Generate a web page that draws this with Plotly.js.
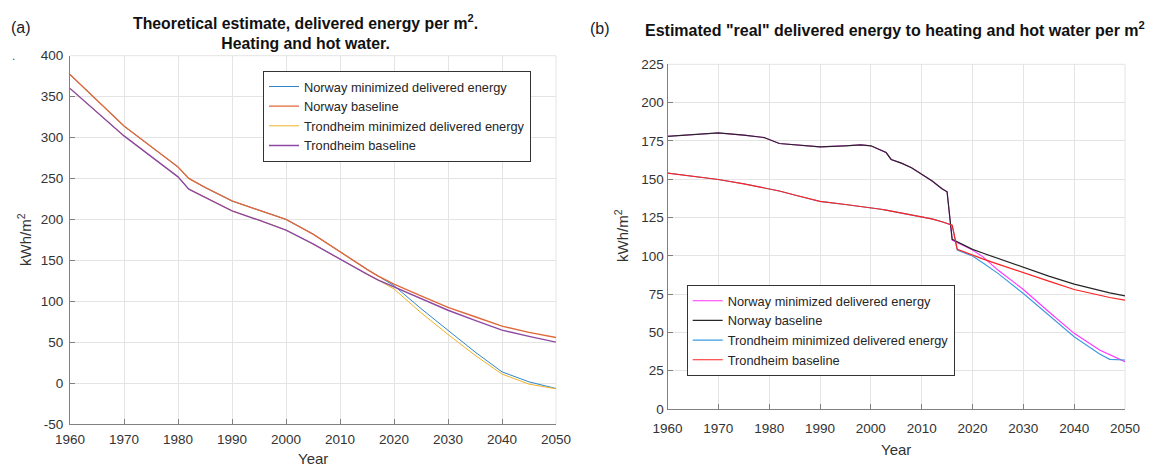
<!DOCTYPE html>
<html>
<head>
<meta charset="utf-8">
<script src="https://cdn.plot.ly/plotly-3.0.1.min.js"></script>
<style>html,body{margin:0;padding:0;background:#fff}#chart{width:1153px;height:468px}</style>
</head>
<body>
<div id="chart"></div>
<script>
// ---------- Panel (a): theoretical estimate ----------
const yearsA = [1960,1965,1970,1975,1980,1982,1985,1990,1995,2000,2005,2010,2015,2017,2020,2025,2030,2035,2040,2045,2050];
const norwayMinA     = [377,345,314,289,264,250,239,222.5,211,200,182,160,139,131,119,91,64.7,38,13.7,1.5,-6.6];
const norwayBaseA    = [377,345,314,289,264,250,239,222.5,211,200,182,160,139,131,121,106.6,92.4,81,69.6,62,55.7];
const trondMinA      = [360,331,302,277,252,237,227,210.5,199,187,170,151,133,126,115,86,59.4,34,11,-1.3,-7];
const trondBaseA     = [360,331,302,277,252,237,227,210.5,199,187,170,151,133,126,117.6,103,89,76.5,64.7,57,50];

// ---------- Panel (b): estimated "real" ----------
const yearsB = [1960,1965,1970,1975,1979,1982,1985,1990,1995,1998,2000,2002,2003,2004,2006,2008,2010,2012,2014,2015,2016,2017,2018,2020,2022,2025,2030,2035,2040,2045,2047,2050];
const norwayMinB  = [178.0,179.3,180.2,178.8,177.2,173.3,172.6,171.1,171.8,172.4,171.8,169.2,167.4,162.9,160.5,157.5,153.5,149.0,143.8,141.8,110.3,108.8,107.0,103.7,99.5,90.7,78.0,63.5,49.4,38.5,35.5,30.9];
const norwayBaseB = [178.0,179.3,180.2,178.8,177.2,173.3,172.6,171.1,171.8,172.4,171.8,169.2,167.4,162.9,160.5,157.5,153.5,149.0,143.8,141.8,110.7,109.2,107.4,104.2,101.8,98.3,92.8,86.7,81.5,77.2,75.8,73.9];
const trondMinB   = [154.0,152.0,149.8,147.0,144.5,142.3,139.7,135.5,133.5,132.3,131.5,130.4,129.8,129.2,128.1,126.8,125.4,124.1,122.2,121.3,120.0,103.7,102.3,99.8,95.5,88.5,75.4,61.3,47.2,35.9,32.4,32.0];
const trondBaseB  = [154.0,152.0,149.8,147.0,144.5,142.3,139.7,135.5,133.5,132.3,131.5,130.4,129.8,129.2,128.1,126.8,125.4,124.1,122.2,121.3,120.0,104.3,103.0,100.4,98.0,94.6,88.9,83.5,78.0,74.3,72.8,71.1];

const seriesNames = ["Norway minimized delivered energy","Norway baseline","Trondheim minimized delivered energy","Trondheim baseline"];
const yTickA = [-50,0,50,100,150,200,250,300,350,400];
const yTickTextA = ["-50","0","50","100","150","200","250","300","350","400"];
const yTickB = [0,25,50,75,100,125,150,175,200,225];
const xTicks = [1960,1970,1980,1990,2000,2010,2020,2030,2040,2050];

const FONT = "Liberation Sans, Arial, Helvetica, sans-serif";
const W = 1153, H = 468;
const px = x => x / W;
const py = y => 1 - y / H;
const GRID = "#e4e4e4";

function tr(x, y, name, color, width, xa, ya, leg) {
  return {x: x, y: y, name: name, type: "scatter", mode: "lines",
          line: {color: color, width: width}, xaxis: xa, yaxis: ya, legend: leg};
}

const data = [
  tr(yearsA, norwayMinA,  seriesNames[0], "#2f86cc", 1.0, "x", "y", "legend"),
  tr(yearsA, norwayBaseA, seriesNames[1], "#e0693a", 1.4, "x", "y", "legend"),
  tr(yearsA, trondMinA,   seriesNames[2], "#efb225", 1.0, "x", "y", "legend"),
  tr(yearsA, trondBaseA,  seriesNames[3], "#8d48a3", 1.4, "x", "y", "legend"),
  tr(yearsB, norwayMinB,  seriesNames[0], "#ff33ff", 1.1, "x2", "y2", "legend2"),
  tr(yearsB, norwayBaseB, seriesNames[1], "#262626", 1.2, "x2", "y2", "legend2"),
  tr(yearsB, trondMinB,   seriesNames[2], "#3a9be0", 1.1, "x2", "y2", "legend2"),
  tr(yearsB, trondBaseB,  seriesNames[3], "#ff2020", 1.2, "x2", "y2", "legend2")
];

const axCommon = {
  showline: true, linecolor: "#808080", linewidth: 1,
  ticks: "inside", ticklen: 5, tickcolor: "#808080",
  showgrid: true, gridcolor: GRID, gridwidth: 1,
  zeroline: false,
  tickfont: {family: FONT, size: 13.5, color: "#333333"}
};

const legCommon = {
  xanchor: "left", yanchor: "top",
  bgcolor: "#ffffff", bordercolor: "#333333", borderwidth: 1,
  font: {family: FONT, size: 12.8, color: "#262626"},
  tracegroupgap: 0
};

function edge(x0, y0, x1, y1) {
  return {type: "line", xref: "paper", yref: "paper", x0: px(x0), y0: py(y0), x1: px(x1), y1: py(y1),
          line: {color: GRID, width: 1}, layer: "below"};
}

const layout = {
  width: W, height: H,
  margin: {l: 0, r: 0, t: 0, b: 0},
  paper_bgcolor: "#ffffff", plot_bgcolor: "#ffffff",
  font: {family: FONT, color: "#262626"},
  showlegend: true,
  xaxis: Object.assign({}, axCommon, {domain: [px(70), px(556)], range: [1960, 2050], tickvals: xTicks, anchor: "y", ticklabelstandoff: 3}),
  yaxis: Object.assign({}, axCommon, {domain: [py(424), py(55.7)], range: [-50, 400], tickvals: yTickA, ticktext: yTickTextA, anchor: "x", ticklabelstandoff: 3}),
  xaxis2: Object.assign({}, axCommon, {domain: [px(667.5), px(1125)], range: [1960, 2050], tickvals: xTicks, anchor: "y2", ticklabelstandoff: 7}),
  yaxis2: Object.assign({}, axCommon, {domain: [py(409), py(64.3)], range: [0, 225], tickvals: yTickB, anchor: "x2"}),
  legend: Object.assign({}, legCommon, {x: px(263), y: py(70.7)}),
  legend2: Object.assign({}, legCommon, {x: px(686.7), y: py(285)}),
  shapes: [
    edge(70, 55.7, 556, 55.7), edge(556, 55.7, 556, 424),
    edge(667.5, 64.3, 1125, 64.3), edge(1125, 64.3, 1125, 409)
  ],
  annotations: [
    {text: "(a)", x: px(9), y: py(27), xref: "paper", yref: "paper", xanchor: "left", yanchor: "middle", showarrow: false, font: {family: FONT, size: 16, color: "#1a1a2a"}},
    {text: "(b)", x: px(588), y: py(28), xref: "paper", yref: "paper", xanchor: "left", yanchor: "middle", showarrow: false, font: {family: FONT, size: 16, color: "#1a1a2a"}},
    {text: ".", x: px(10), y: py(56), xref: "paper", yref: "paper", xanchor: "left", yanchor: "middle", showarrow: false, font: {family: FONT, size: 12, color: "#555"}},
    {text: "<b>Theoretical estimate, delivered energy per m<sup>2</sup>.</b><br><b>Heating and hot water.</b>", x: px(305), y: py(32), xref: "paper", yref: "paper", xanchor: "center", yanchor: "middle", showarrow: false, font: {family: FONT, size: 15.8, color: "#111"}},
    {text: "<b>Estimated \"real\" delivered energy to heating and hot water per m<sup>2</sup></b>", x: px(895), y: py(29), xref: "paper", yref: "paper", xanchor: "center", yanchor: "middle", showarrow: false, font: {family: FONT, size: 16, color: "#111"}},
    {text: "Year", x: px(313), y: py(458), xref: "paper", yref: "paper", xanchor: "center", yanchor: "middle", showarrow: false, font: {family: FONT, size: 15, color: "#333"}},
    {text: "Year", x: px(896), y: py(449), xref: "paper", yref: "paper", xanchor: "center", yanchor: "middle", showarrow: false, font: {family: FONT, size: 15, color: "#333"}},
    {text: "kWh/m<sup>2</sup>", x: px(25), y: py(240), xref: "paper", yref: "paper", xanchor: "center", yanchor: "middle", textangle: -90, showarrow: false, font: {family: FONT, size: 15, color: "#333"}},
    {text: "kWh/m<sup>2</sup>", x: px(621), y: py(236), xref: "paper", yref: "paper", xanchor: "center", yanchor: "middle", textangle: -90, showarrow: false, font: {family: FONT, size: 15, color: "#333"}}
  ]
};

Plotly.newPlot("chart", data, layout, {displayModeBar: false, staticPlot: true});
</script>
</body>
</html>
